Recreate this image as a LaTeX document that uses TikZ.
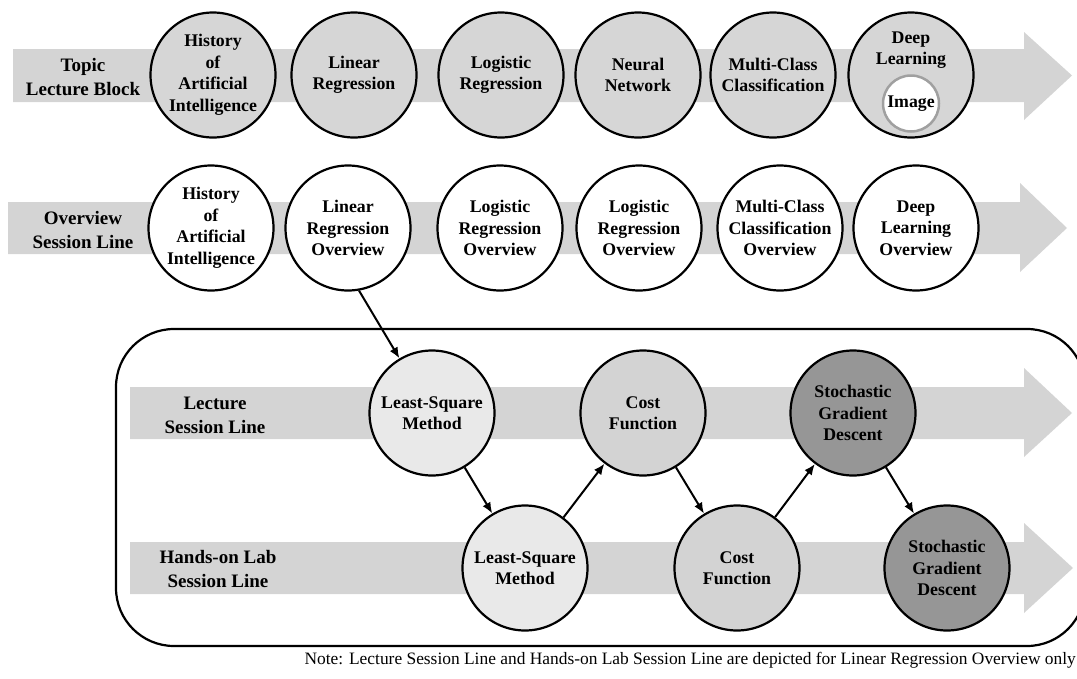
\documentclass[tikz,border=0pt]{standalone}
\usepackage{fontspec}
\setmainfont{Liberation Serif}
\usetikzlibrary{arrows.meta}
\definecolor{bandgray}{RGB}{212,212,212}
\definecolor{topfill}{RGB}{214,214,214}
\definecolor{lsmfill}{RGB}{233,233,233}
\definecolor{costfill}{RGB}{211,211,211}
\definecolor{sgdfill}{RGB}{150,150,150}
\definecolor{imgring}{RGB}{160,160,160}
\newcommand\circfont{\fontsize{17.8}{21.5}\selectfont\bfseries}
\newcommand\labfont{\fontsize{19}{24}\selectfont\bfseries}
\newcommand\notefont{\fontsize{17.4}{20}\selectfont}
\begin{document}
\begin{tikzpicture}[x=1pt,y=-1pt,
  bubble/.style={circle, draw=black, line width=2.2pt, minimum size=125pt, inner sep=0pt, align=center, font=\circfont},
  topicc/.style={bubble, fill=topfill},
  overc/.style={bubble, fill=white},
  lsmc/.style={bubble, fill=lsmfill},
  costc/.style={bubble, fill=costfill},
  sgdc/.style={bubble, fill=sgdfill},
  rowlabel/.style={align=center, font=\labfont, inner sep=0pt},
  conn/.style={line width=2pt, -{Latex[length=11pt,width=9pt]}},
  imgc/.style={circle, draw=imgring, line width=2.5pt, fill=white, minimum size=56pt, inner sep=0pt, font=\circfont}
]
\useasboundingbox (0,0) rectangle (1077,678);
% container
\begin{scope}
\clip (0,0) rectangle (1077,678);
\draw[line width=2.2pt, rounded corners=58pt] (116,329) rectangle (1085,646);
\end{scope}
% bands
\fill[bandgray] (13,49) -- (1024,49) -- (1024,32) -- (1072,75.5) -- (1024,120) -- (1024,102) -- (13,102) -- cycle;
\fill[bandgray] (8,202) -- (1020,202) -- (1020,183) -- (1067,228) -- (1020,272) -- (1020,254) -- (8,254) -- cycle;
\fill[bandgray] (130,387) -- (1024,387) -- (1024,368) -- (1072,413) -- (1024,457) -- (1024,439) -- (130,439) -- cycle;
\fill[bandgray] (130,542) -- (1024,542) -- (1024,523) -- (1073,568) -- (1024,613) -- (1024,594) -- (130,594) -- cycle;
% row labels
\node[rowlabel] (lt) at (83,77) {Topic\\Lecture Block};
\node[rowlabel] (lo) at (83,230) {Overview\\Session Line};
\node[rowlabel] (ll) at (215,415) {Lecture\\Session Line};
\node[rowlabel] (lh) at (218,569) {Hands-on Lab\\Session Line};
% topic row
\node[topicc] (t1) at (213,75) {History\\of\\Artificial\\Intelligence};
\node[topicc] (t2) at (354,75) {Linear\\Regression};
\node[topicc] (t3) at (501,75) {Logistic\\Regression};
\node[topicc] (t4) at (638,75) {Neural\\Network};
\node[topicc] (t5) at (773,75) {Multi-Class\\Classification};
\node[topicc] (t6) at (911,75) {};
\node[align=center, font=\circfont, inner sep=0pt] (t6t) at (911,50) {Deep\\Learning};
\node[imgc] (img) at (911,103.5) {Image};
% overview row
\node[overc] (o1) at (211,228) {History\\of\\Artificial\\Intelligence};
\node[overc] (o2) at (348,228) {Linear\\Regression\\Overview};
\node[overc] (o3) at (500,228) {Logistic\\Regression\\Overview};
\node[overc] (o4) at (639,228) {Logistic\\Regression\\Overview};
\node[overc] (o5) at (780,228) {Multi-Class\\Classification\\Overview};
\node[overc] (o6) at (916,228) {Deep\\Learning\\Overview};
% lecture row
\node[lsmc] (l1) at (432,413) {Least-Square\\Method};
\node[costc] (l2) at (643,413) {Cost\\Function};
\node[sgdc] (l3) at (853,413) {Stochastic\\Gradient\\Descent};
% hands-on row
\node[lsmc] (h1) at (525,568) {Least-Square\\Method};
\node[costc] (h2) at (737,568) {Cost\\Function};
\node[sgdc] (h3) at (947,568) {Stochastic\\Gradient\\Descent};
% connectors
\draw[conn] (o2.-80) -- (l1);
\draw[conn] (l1) -- (h1);
\draw[conn] (h1) -- (l2);
\draw[conn] (l2) -- (h2);
\draw[conn] (h2) -- (l3);
\draw[conn] (l3) -- (h3);
% note
\node[font=\notefont, anchor=east, inner sep=0pt] (note) at (1076,660) {Note: Lecture Session Line and Hands-on Lab Session Line are depicted for Linear Regression Overview only};
\end{tikzpicture}
\end{document}
